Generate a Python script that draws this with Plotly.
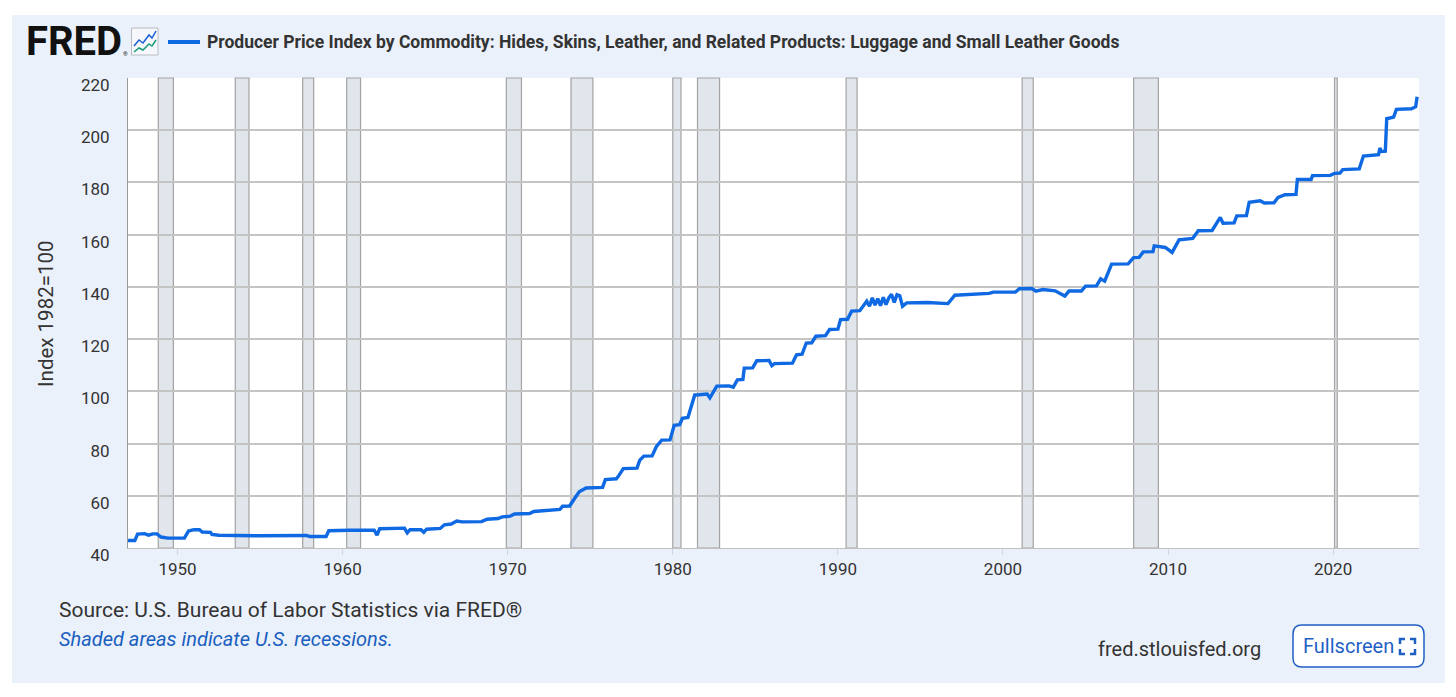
import plotly.graph_objects as go

# series: Producer Price Index, Luggage and Small Leather Goods (Index 1982=100)
dates = [
    "1947-01", "1947-06", "1947-08", "1948-01", "1948-04", "1948-07", "1948-10",
    "1949-01", "1949-06", "1950-06", "1950-09", "1951-01", "1951-05", "1951-07",
    "1952-01", "1952-02", "1952-07", "1954-10", "1957-11", "1958-01", "1959-01",
    "1959-03", "1960-06", "1961-12", "1962-02", "1962-04", "1963-10", "1963-12",
    "1964-02", "1964-10", "1964-12", "1965-02", "1965-12", "1966-03", "1966-08",
    "1966-12", "1967-04", "1968-06", "1968-10", "1969-06", "1969-09", "1970-03",
    "1970-06", "1971-05", "1971-08", "1972-05", "1972-08", "1973-03", "1973-05",
    "1973-10", "1974-01", "1974-05", "1974-10", "1975-10", "1975-12", "1976-08",
    "1976-10", "1977-01", "1977-11", "1978-01", "1978-04", "1978-10", "1979-01",
    "1979-05", "1979-11", "1980-02", "1980-06", "1980-08", "1980-12", "1981-03",
    "1981-05", "1981-08", "1982-02", "1982-04", "1982-06", "1982-09", "1983-06",
    "1983-09", "1983-12", "1984-04", "1984-05", "1984-11", "1985-02", "1985-11",
    "1986-01", "1986-03", "1987-04", "1987-07", "1987-11", "1988-02", "1988-06",
    "1988-09", "1989-04", "1989-07", "1990-01", "1990-03", "1990-08", "1990-11",
    "1991-05", "1991-10", "1991-12", "1992-02", "1992-04", "1992-06", "1992-08",
    "1992-10", "1992-12", "1993-02", "1993-04", "1993-06", "1993-08", "1993-10",
    "1993-12", "1994-03", "1995-06", "1996-09", "1997-02", "1998-03", "1999-03",
    "1999-06", "2000-10", "2001-01", "2001-10", "2002-01", "2002-06", "2003-03",
    "2003-10", "2004-01", "2004-10", "2005-01", "2005-09", "2005-12", "2006-03",
    "2006-08", "2007-08", "2007-12", "2008-04", "2008-07", "2009-02", "2009-03",
    "2009-11", "2010-04", "2010-09", "2011-07", "2011-09", "2011-11", "2012-09",
    "2012-11", "2013-03", "2013-05", "2014-01", "2014-03", "2014-10", "2014-12",
    "2015-08", "2015-11", "2016-06", "2016-09", "2017-02", "2017-10", "2017-11",
    "2018-09", "2018-10", "2019-11", "2020-02", "2020-06", "2020-08", "2021-08",
    "2021-11", "2022-10", "2022-11", "2022-12", "2023-03", "2023-04", "2023-09",
    "2023-11", "2024-10", "2025-01", "2025-02",
]
values = [
    42.9, 42.9, 45.3, 45.5, 44.9, 45.4, 45.4,
    44.2, 43.8, 43.8, 46.5, 47.0, 47.0, 46.1,
    46.0, 45.2, 44.9, 44.7, 44.8, 44.4, 44.4,
    46.6, 46.8, 46.8, 44.9, 47.4, 47.6, 45.8,
    47.0, 47.0, 46.0, 47.2, 47.5, 48.9, 49.2,
    50.3, 50.0, 50.1, 51.0, 51.3, 51.9, 52.2,
    53.0, 53.2, 54.0, 54.3, 54.7, 54.8, 56.0,
    56.1, 58.5, 61.5, 63.0, 63.2, 66.2, 66.5,
    67.9, 70.4, 70.6, 73.6, 75.2, 75.3, 78.8,
    81.3, 81.4, 87.0, 87.2, 89.7, 90.0, 95.5,
    98.6, 98.7, 99.0, 97.5, 99.5, 102.0, 102.1,
    101.6, 104.4, 104.6, 108.9, 109.0, 111.7, 111.8,
    109.8, 110.6, 110.8, 114.0, 114.2, 118.5, 118.6,
    121.1, 121.3, 123.7, 123.8, 127.5, 127.6, 130.7,
    130.9, 134.5, 132.6, 135.8, 133.0, 135.5, 132.8,
    136.0, 133.2, 135.8, 137.2, 134.0, 137.0, 136.6,
    132.6, 133.9, 134.0, 133.6, 136.8, 137.2, 137.5,
    138.0, 138.0, 139.3, 139.4, 138.4, 139.0, 138.5,
    136.5, 138.4, 138.4, 140.3, 140.4, 143.1, 142.2,
    148.7, 148.8, 151.2, 151.3, 153.4, 153.5, 155.7,
    155.1, 153.2, 158.0, 158.6, 160.2, 161.5, 161.6,
    163.4, 166.6, 164.4, 164.5, 167.2, 167.3, 172.4,
    173.0, 172.1, 172.2, 174.3, 175.3, 175.4, 181.1,
    181.1, 182.6, 182.7, 183.5, 183.6, 184.9, 185.2,
    190.1, 190.6, 193.2, 191.9, 192.0, 204.4, 205.0,
    208.0, 208.2, 209.0, 212.8,
]

# NBER recessions
rec_start = ["1948-11-01", "1953-07-01", "1957-08-01", "1960-04-01", "1969-12-01",
             "1973-11-01", "1980-01-01", "1981-07-01", "1990-07-01", "2001-03-01",
             "2007-12-01", "2020-02-01"]
rec_end = ["1949-10-01", "1954-05-01", "1958-04-01", "1961-02-01", "1970-11-01",
           "1975-03-01", "1980-07-01", "1982-11-01", "1991-03-01", "2001-11-01",
           "2009-06-01", "2020-04-01"]

y_ticks = [40, 60, 80, 100, 120, 140, 160, 180, 200, 220]

title_text = ("Producer Price Index by Commodity: Hides, Skins, Leather, "
              "and Related Products: Luggage and Small Leather Goods")
y_title = "Index 1982=100"
source_text = "Source: U.S. Bureau of Labor Statistics via FRED®"
note_text = "Shaded areas indicate U.S. recessions."

W_FIG, H_FIG = 1456, 697
L, T, W, H = 128, 78, 1291, 470
LINE_BLUE = "#0f69e3"
PANEL = "#ebf1fa"
FONT = "Roboto"


def px(x):
    return (x - L) / W


def py(y):
    return (T + H - y) / H


fig = go.Figure()
fig.add_trace(go.Scatter(
    x=dates, y=values, mode="lines",
    line=dict(color=LINE_BLUE, width=3.4),
    showlegend=False, hoverinfo="x+y",
))

shapes = []
for s, e in zip(rec_start, rec_end):
    shapes.append(dict(type="rect", xref="x", yref="paper", x0=s, x1=e, y0=0, y1=1,
                       fillcolor="#e1e5ec", line=dict(color="#a3a3a3", width=1.2),
                       layer="below"))

# white margin around the light panel
for x0, x1, y0, y1 in [(0, 12, 0, H_FIG), (1445, W_FIG, 0, H_FIG),
                       (0, W_FIG, 0, 15), (0, W_FIG, 683, H_FIG)]:
    shapes.append(dict(type="rect", xref="paper", yref="paper",
                       x0=px(x0), x1=px(x1), y0=py(y1), y1=py(y0),
                       fillcolor="white", line=dict(width=0), layer="above"))

# little chart icon next to logo
shapes.append(dict(type="rect", xref="paper", yref="paper",
                   x0=px(131.5), x1=px(158), y0=py(55), y1=py(28),
                   fillcolor="#f5f7fa", line=dict(color="#b8bcc2", width=1)))


def path(points):
    return "M " + " L ".join(f"{px(a)},{py(b)}" for a, b in points)


shapes.append(dict(type="path", xref="paper", yref="paper",
                   path=path([(134, 46), (139, 40), (143, 43), (149, 35), (152, 38), (156, 31)]),
                   line=dict(color="#1a5fd8", width=1.5)))
shapes.append(dict(type="path", xref="paper", yref="paper",
                   path=path([(134, 52), (139, 48), (143, 50), (149, 44), (152, 46), (156, 40)]),
                   line=dict(color="#1a9a7a", width=1.5)))

# legend swatch
shapes.append(dict(type="line", xref="paper", yref="paper",
                   x0=px(168), x1=px(200), y0=py(42), y1=py(42),
                   line=dict(color=LINE_BLUE, width=4)))

# fullscreen button
bx0, bx1, by0, by1, r = 1293, 1424, 625, 667, 9
shapes.append(dict(
    type="path", xref="paper", yref="paper",
    path=(f"M {px(bx0 + r)},{py(by0)} L {px(bx1 - r)},{py(by0)} "
          f"Q {px(bx1)},{py(by0)} {px(bx1)},{py(by0 + r)} L {px(bx1)},{py(by1 - r)} "
          f"Q {px(bx1)},{py(by1)} {px(bx1 - r)},{py(by1)} L {px(bx0 + r)},{py(by1)} "
          f"Q {px(bx0)},{py(by1)} {px(bx0)},{py(by1 - r)} L {px(bx0)},{py(by0 + r)} "
          f"Q {px(bx0)},{py(by0)} {px(bx0 + r)},{py(by0)} Z"),
    fillcolor="white", line=dict(color="#1f5fc4", width=1.5)))
ix0, ix1, iy0, iy1, a = 1400, 1415, 639, 654, 5
for pts in [[(ix0, iy0 + a), (ix0, iy0), (ix0 + a, iy0)],
            [(ix1 - a, iy0), (ix1, iy0), (ix1, iy0 + a)],
            [(ix0, iy1 - a), (ix0, iy1), (ix0 + a, iy1)],
            [(ix1 - a, iy1), (ix1, iy1), (ix1, iy1 - a)]]:
    shapes.append(dict(type="path", xref="paper", yref="paper", path=path(pts),
                       line=dict(color="#1f5fc4", width=2.5)))

annotations = [
    dict(text="<b>FRED</b>", x=px(24), y=py(42), xanchor="left", yanchor="middle",
         font=dict(family=FONT, size=40, color="#111111", weight=900)),
    dict(text="®", x=px(121), y=py(53), xanchor="left", yanchor="middle",
         font=dict(family=FONT, size=6, color="#111111")),
    dict(text=f"<b>{title_text}</b>", x=px(205), y=py(42), xanchor="left", yanchor="middle",
         font=dict(family=FONT, size=17.5, color="#333333")),
    dict(text=y_title, x=px(46), y=py(314), xanchor="center", yanchor="middle",
         textangle=-90, font=dict(family=FONT, size=20.5, color="#333333")),
    dict(text=source_text, x=px(57), y=py(610), xanchor="left", yanchor="middle",
         font=dict(family=FONT, size=21, color="#333333")),
    dict(text=f"<i>{note_text}</i>", x=px(57), y=py(639), xanchor="left", yanchor="middle",
         font=dict(family=FONT, size=20, color="#1a5fc0")),
    dict(text="fred.stlouisfed.org", x=px(1263), y=py(649), xanchor="right", yanchor="middle",
         font=dict(family=FONT, size=20, color="#333333")),
    dict(text="Fullscreen", x=px(1301), y=py(646), xanchor="left", yanchor="middle",
         font=dict(family=FONT, size=20, color="#1f5fc4")),
]
for a_ in annotations:
    a_.update(xref="paper", yref="paper", showarrow=False)

fig.update_layout(
    width=W_FIG, height=H_FIG,
    margin=dict(l=L, r=W_FIG - L - W, t=T, b=H_FIG - T - H, pad=0),
    paper_bgcolor=PANEL, plot_bgcolor="white",
    font=dict(family=FONT, color="#333333"),
    shapes=shapes, annotations=annotations,
    showlegend=False,
    xaxis=dict(
        type="date", range=["1947-01-01", "2025-03-15"],
        tick0="1950-01-01", dtick="M120", tickformat="%Y",
        showgrid=False, zeroline=False,
        ticks="outside", ticklen=6, tickcolor="#ccd6eb", tickwidth=1,
        showline=True, linecolor="#c0c0c0", linewidth=1,
        tickfont=dict(family=FONT, size=17, color="#333333"),
    ),
    yaxis=dict(
        range=[40, 220], tickvals=y_ticks,
        showgrid=True, gridcolor="#c4c4c4", gridwidth=2, zeroline=False,
        showline=True, linecolor="#9a9a9a", linewidth=1,
        ticks="", ticklabelstandoff=14, ticklabelshift=7,
        tickfont=dict(family=FONT, size=17, color="#333333"),
    ),
)

fig.write_html("out.html", config={"displayModeBar": False},
               post_script="document.body.style.margin='0';")
